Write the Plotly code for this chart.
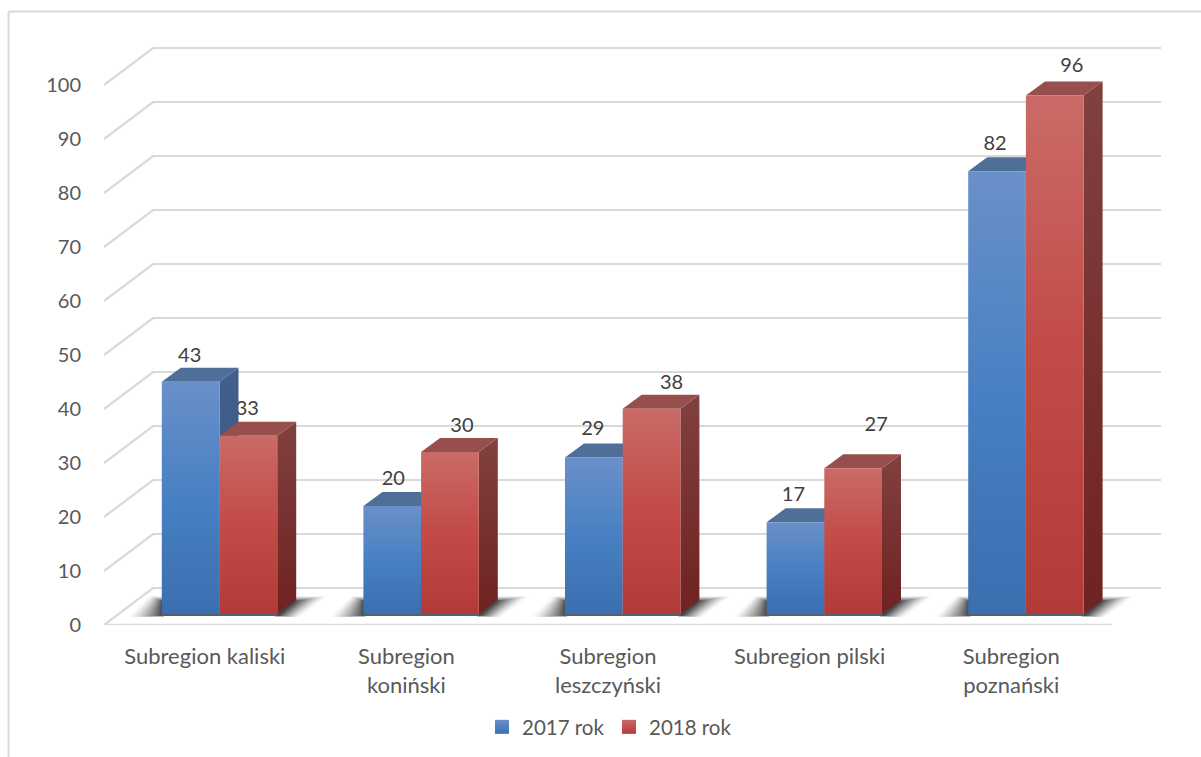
import plotly.graph_objects as go

categories = ["Subregion kaliski", "Subregion<br>koniński", "Subregion<br>leszczyński", "Subregion pilski", "Subregion<br>poznański"]
y2017 = [43, 20, 29, 17, 82]
y2018 = [33, 30, 38, 27, 96]
series_names = ["2017 rok", "2018 rok"]
y_ticks = list(range(0, 101, 10))

# manual data-label nudges (px) relative to the bar front centre / bar top
lab_dx_2017 = [-1, 1, -1, -2, -2]
lab_dx_2018 = [-1, 12, 20, 23, 17]
lab_dy_2017 = [25, 26, 27, 26, 26]
lab_dy_2018 = [26, 25, 25, 42, 29]

W, H = 1201, 757
PL, PR, PT, PB = 104, 1161, 20, 625     # plot rectangle in page pixels
XU = 201.6   # px per category
YU = 5.4     # px per value unit
WALL_DX, WALL_DY = 49, 37
BAR_DX, BAR_DY = 19, 14
PLANE_DX, PLANE_DY = 14.6, 11
BAR_W = 57.7
GAP = 43.2
SHADOW_STEPS = 20

GRID = "#d9d9d9"
TXT = "#595959"
LAB = "#404040"
STYLE = {
    0: dict(front=("#6a90c9", "#4880c3", "#3a6fb0"), top="#4f6e98", side=("#41608c", "#33547f")),
    1: dict(front=("#ca6b67", "#c24a47", "#b23a37"), top="#964f4d", side=("#80413f", "#6f2221")),
}

def ux(px):
    return px / XU

def uy(px):
    return px / YU

fig = go.Figure()

def poly(xs, ys, color=None, grad=None, gtype="vertical"):
    kw = dict(x=xs + xs[:1], y=ys + ys[:1], mode="lines", fill="toself",
              line=dict(width=0), hoverinfo="skip", showlegend=False)
    if grad:
        kw["fillgradient"] = dict(type=gtype, colorscale=grad)
    else:
        kw["fillcolor"] = color
    fig.add_trace(go.Scatter(**kw))

# walls: one poly-line per gridline
for v in y_ticks:
    fig.add_trace(go.Scatter(
        x=[0, ux(WALL_DX), ux(PR - PL)],
        y=[v, v + uy(WALL_DY), v + uy(WALL_DY)],
        mode="lines", line=dict(color=GRID, width=2.2), hoverinfo="skip",
        showlegend=False, cliponaxis=False))
fig.add_trace(go.Scatter(x=[0, len(categories)], y=[0, 0], mode="lines",
                         line=dict(color=GRID, width=2.5), hoverinfo="skip",
                         showlegend=False, cliponaxis=False))

def bar_x0(i, s):
    return i + ux(PLANE_DX + GAP + s * BAR_W)

base = uy(PLANE_DY)

# data labels sit beneath the bars, so the blue side can cover part of "33"
for s, (vals, dxs, dys) in enumerate([(y2017, lab_dx_2017, lab_dy_2017), (y2018, lab_dx_2018, lab_dy_2018)]):
    fig.add_trace(go.Scatter(
        x=[bar_x0(i, s) + ux(BAR_W / 2 + dxs[i]) for i in range(len(vals))],
        y=[v + base + uy(dys[i]) for i, v in enumerate(vals)],
        text=[str(v) for v in vals], mode="text", textposition="middle center",
        textfont=dict(family="Lato", size=20, color=LAB),
        hoverinfo="skip", showlegend=False, cliponaxis=False))

# soft floor shadows: nested parallelograms running from near-white to dark grey
def shade(t):
    g = round(252 - 182 * t ** 1.3)
    return f"rgb({g},{g},{g})"

for i in range(len(categories)):
    xl = bar_x0(i, 0)
    xr = bar_x0(i, 2)
    yb = base - uy(3)
    yt = base + uy(18)
    for k in range(SHADOW_STEPS):
        t = k / (SHADOW_STEPS - 1)
        top = yt - uy(5 * t)
        bot = yb + uy(1.5 * t)
        poly([xl - ux(34 * (1 - t)), xl + ux(2), xl + ux(2), xl - ux(12 * (1 - t))],
             [bot, bot, top, top], color=shade(t))
        poly([xr - ux(2), xr + ux(22 - 20 * t), xr + ux(BAR_DX + 32 * (1 - t)), xr + ux(BAR_DX - 2)],
             [bot, bot, top, top], color=shade(t))
    poly([xl, xr, xr, xl], [yb + uy(1), yb + uy(1), base, base], color="#55606e")

# bars: side, top and front faces, all derived from the values
for i in range(len(categories)):
    for s, vals in enumerate([y2017, y2018]):
        st = STYLE[s]
        x0 = bar_x0(i, s)
        x1 = x0 + ux(BAR_W)
        y0 = base
        y1 = base + vals[i]
        ddx, ddy = ux(BAR_DX), uy(BAR_DY)
        poly([x1, x1 + ddx, x1 + ddx, x1], [y0, y0 + ddy, y1 + ddy, y1],
             grad=[[0, st["side"][1]], [1, st["side"][0]]])
        poly([x0, x1, x1 + ddx, x0 + ddx], [y1, y1, y1 + ddy, y1 + ddy], color=st["top"])
        poly([x0, x1, x1, x0], [y0, y0, y1, y1],
             grad=[[0, st["front"][2]], [0.5, st["front"][1]], [1, st["front"][0]]])

# legend swatches
for s, name in enumerate(series_names):
    fig.add_trace(go.Scatter(
        x=[None], y=[None], mode="markers", name=name,
        marker=dict(symbol="square", size=14, color=STYLE[s]["front"][0],
                    gradient=dict(type="vertical", color=STYLE[s]["front"][2])),
        hoverinfo="skip"))

def tick_text(t):
    return "<br>".join(f"<span style='font-size:22px'>{p}</span>" for p in t.split("<br>"))

px = lambda p: (p - PL) / (PR - PL)
py = lambda p: (PB - p) / (PB - PT)

fig.update_layout(
    width=W, height=H, paper_bgcolor="white", plot_bgcolor="white",
    margin=dict(l=PL, r=W - PR, t=PT, b=H - PB, pad=0, autoexpand=False),
    font=dict(family="Lato", color=TXT, size=20),
    showlegend=True,
    legend=dict(orientation="h", xref="container", yref="container", x=482 / W, xanchor="left",
                y=1 - 727 / H, yanchor="middle",
                entrywidth=82, entrywidthmode="pixels",
                font=dict(size=20.5, color=TXT), bgcolor="rgba(0,0,0,0)", itemclick=False, itemdoubleclick=False),
    xaxis=dict(range=[0, ux(PR - PL)], showgrid=False, zeroline=False, showline=False,
               tickmode="array", tickvals=[i + 0.5 for i in range(len(categories))],
               ticktext=[tick_text(c) for c in categories], tickangle=0,
               ticks="outside", ticklen=11, tickcolor="rgba(0,0,0,0)",
               tickfont=dict(family="Lato", size=22.3, color=TXT)),
    yaxis=dict(range=[0, uy(PB - PT)], showgrid=False, zeroline=False, showline=False,
               tickmode="array", tickvals=y_ticks, ticktext=[str(v) for v in y_ticks],
               ticks="outside", ticklen=18, tickcolor="rgba(0,0,0,0)",
               tickfont=dict(family="Lato", size=20, color=TXT)),
    shapes=[
        dict(type="line", xref="paper", yref="paper", x0=px(8.5), x1=px(8.5), y0=py(757), y1=py(11.5),
             line=dict(color=GRID, width=2)),
        dict(type="line", xref="paper", yref="paper", x0=px(8.5), x1=px(1201), y0=py(11.5), y1=py(11.5),
             line=dict(color=GRID, width=2)),
    ],
)

fig.write_html("out.html", post_script="document.body.style.margin='0';",
               config=dict(displayModeBar=False))
